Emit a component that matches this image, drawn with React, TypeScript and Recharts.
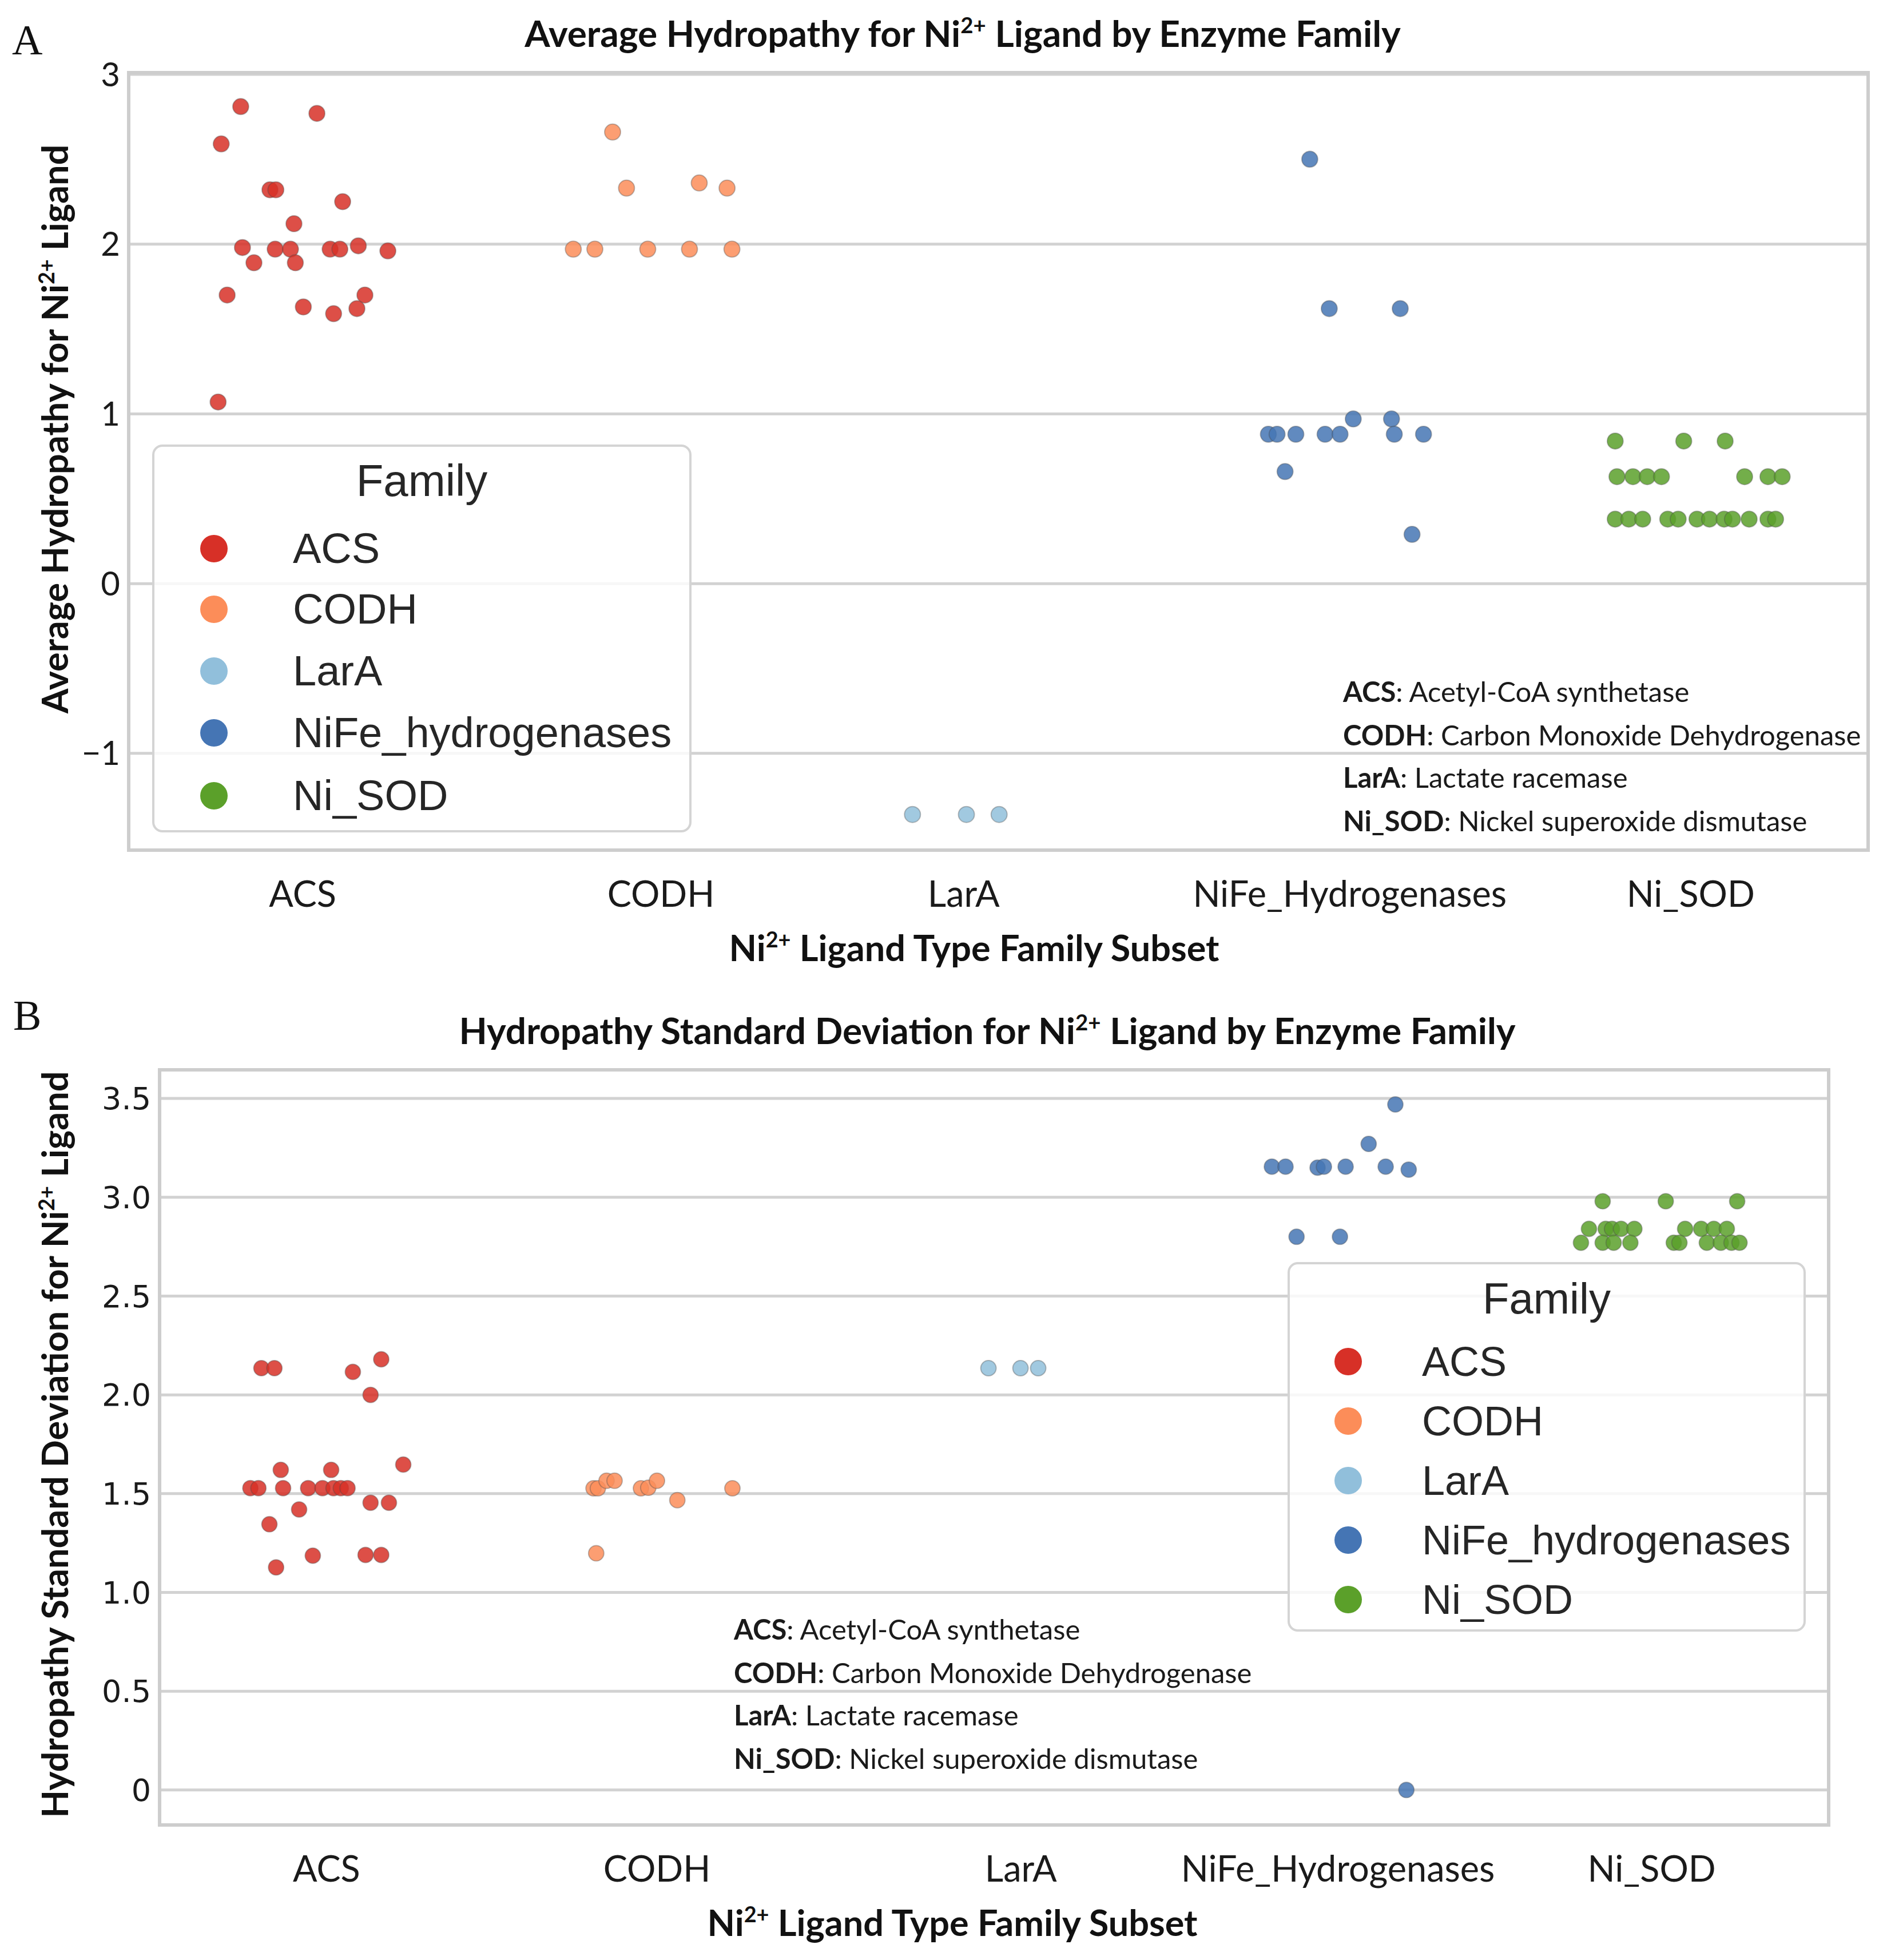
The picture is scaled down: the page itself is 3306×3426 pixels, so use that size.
import { ScatterChart, Scatter, XAxis, YAxis, CartesianGrid, ReferenceArea } from 'recharts';

type Pt = [number, number];

// category axis + families
const CATEGORIES = ['ACS', 'CODH', 'LarA', 'NiFe_Hydrogenases', 'Ni_SOD'];
const FAMILY_NAMES = ['ACS', 'CODH', 'LarA', 'NiFe_hydrogenases', 'Ni_SOD'];
const FAMILY_COLORS = ['#d73027', '#fc8d59', '#91bfdb', '#4575b4', '#5ba02a'];

// tick label positions (in category units) as placed in the figure
const MEAN_TICK_POS = [0, 1.03, 1.9, 3.01, 3.99];
const SD_TICK_POS = [0, 0.99, 2.08, 3.03, 3.97];
const MEAN_Y_TICKS = [-1, 0, 1, 2, 3];
const SD_Y_TICKS = [0, 0.5, 1, 1.5, 2, 2.5, 3, 3.5];

// panel A: average hydropathy, [jitter, value]
const ACS_MEAN: Pt[] = [
  [-0.178, 2.81], [0.041, 2.77], [-0.234, 2.59], [-0.094, 2.32], [-0.077, 2.32], [0.115, 2.25],
  [-0.025, 2.12], [-0.173, 1.98], [-0.079, 1.97], [-0.035, 1.97], [0.079, 1.97], [0.107, 1.97],
  [0.16, 1.99], [0.245, 1.96], [-0.14, 1.89], [-0.021, 1.89], [-0.217, 1.7], [0.179, 1.7],
  [0.002, 1.63], [0.156, 1.62], [0.089, 1.59], [-0.243, 1.07],
];
const CODH_MEAN: Pt[] = [
  [-0.109, 2.66], [-0.069, 2.33], [0.14, 2.36], [0.22, 2.33], [-0.222, 1.97], [-0.16, 1.97],
  [-0.008, 1.97], [0.112, 1.97], [0.234, 1.97],
];
const LARA_MEAN: Pt[] = [[-0.247, -1.36], [-0.092, -1.36], [0.002, -1.36]];
const NIFE_MEAN: Pt[] = [
  [-0.105, 2.5], [-0.049, 1.62], [0.155, 1.62], [0.02, 0.97], [0.13, 0.97], [-0.224, 0.88],
  [-0.199, 0.88], [-0.145, 0.88], [-0.061, 0.88], [-0.018, 0.88], [0.138, 0.88], [0.222, 0.88],
  [-0.176, 0.66], [0.189, 0.29],
];
const NISOD_MEAN: Pt[] = [
  [-0.227, 0.84], [-0.03, 0.84], [0.089, 0.84],
  [-0.222, 0.63], [-0.176, 0.63], [-0.135, 0.63], [-0.094, 0.63], [0.145, 0.63], [0.212, 0.63], [0.253, 0.63],
  [-0.227, 0.38], [-0.188, 0.38], [-0.148, 0.38], [-0.076, 0.38], [-0.046, 0.38], [0.008, 0.38],
  [0.044, 0.38], [0.086, 0.38], [0.11, 0.38], [0.158, 0.38], [0.212, 0.38], [0.234, 0.38],
];

// panel B: hydropathy standard deviation, [jitter, value]
const ACS_SD: Pt[] = [
  [-0.195, 2.135], [-0.156, 2.135], [0.079, 2.116], [0.164, 2.18], [0.132, 2.0], [0.23, 1.647],
  [-0.137, 1.62], [0.014, 1.62], [-0.228, 1.528], [-0.204, 1.528], [-0.13, 1.528], [-0.055, 1.528],
  [-0.012, 1.528], [0.021, 1.528], [0.043, 1.528], [0.063, 1.528], [0.132, 1.454], [0.187, 1.454],
  [-0.082, 1.42], [-0.171, 1.345], [-0.041, 1.186], [0.117, 1.19], [0.164, 1.19], [-0.151, 1.127],
];
const CODH_SD: Pt[] = [
  [-0.2, 1.527], [-0.187, 1.527], [-0.161, 1.565], [-0.137, 1.565], [-0.058, 1.527], [-0.036, 1.53],
  [-0.01, 1.565], [0.051, 1.467], [0.216, 1.527], [-0.192, 1.198],
];
const LARA_SD: Pt[] = [[-0.017, 2.135], [0.079, 2.135], [0.132, 2.135]];
const NIFE_SD: Pt[] = [
  [0.202, 3.47], [0.122, 3.27], [-0.168, 3.155], [-0.127, 3.155], [-0.031, 3.15], [-0.012, 3.155],
  [0.053, 3.155], [0.173, 3.155], [0.242, 3.14], [-0.094, 2.8], [0.036, 2.8], [0.235, 0.0],
];
const NISOD_SD: Pt[] = [
  [-0.177, 2.98], [0.012, 2.98], [0.226, 2.98],
  [-0.218, 2.84], [-0.168, 2.84], [-0.149, 2.84], [-0.122, 2.84], [-0.082, 2.84], [0.07, 2.84],
  [0.118, 2.84], [0.156, 2.84], [0.195, 2.84],
  [-0.242, 2.77], [-0.177, 2.77], [-0.144, 2.77], [-0.094, 2.77], [0.036, 2.77], [0.053, 2.77],
  [0.135, 2.77], [0.177, 2.77], [0.209, 2.77], [0.233, 2.77],
];

const ANNOT_ABBR = ['ACS', 'CODH', 'LarA', 'Ni_SOD'];
const ANNOT_DESC = ['Acetyl-CoA synthetase', 'Carbon Monoxide Dehydrogenase', 'Lactate racemase', 'Nickel superoxide dismutase'];

const W = 3306;
const H = 3426;
const CAL = "Lato, 'Open Sans', sans-serif";
const ARIAL = "'Liberation Sans', Arial, sans-serif";
const TITLE_SIZE = 64;
const AXIS_LABEL_SIZE = 63;

const toPoints = (idx: number, pts: Pt[]) => pts.map(([dx, v]) => ({ x: idx + dx, y: v }));

// superscripted Ni2+ inside svg text
const NiSup = ({ before, after, size }: { before: string; after: string; size: number }) => (
  <>
    {before}Ni
    <tspan dy={-size * 0.38} fontSize={size * 0.6}>2+</tspan>
    <tspan dy={size * 0.38}>{after}</tspan>
  </>
);

type PanelProps = {
  top: number;
  height: number;
  plot: { left: number; top: number; right: number; bottom: number };
  yDomain: [number, number];
  yTicks: number[];
  yFmt: (v: number) => string;
  yTickFont: { family: string; size: number };
  tickPos: number[];
  series: Pt[][];
  r: number;
  xLabelX: number;
  yLabelY: number;
  yLabelText: string;
};

function Panel(p: PanelProps) {
  const { plot } = p;
  const localTop = plot.top - p.top;
  const localBottom = plot.bottom - p.top;
  const xLabel = () => (
    <text x={p.xLabelX} y={localBottom + 194} textAnchor="middle" fontFamily={CAL} fontWeight={700} fontSize={AXIS_LABEL_SIZE} fill="#111">
      <NiSup before="" after=" Ligand Type Family Subset" size={AXIS_LABEL_SIZE} />
    </text>
  );
  const yLabel = () => {
    const cx = 119;
    const cy = p.yLabelY - p.top;
    return (
      <text x={cx} y={cy} transform={`rotate(-90, ${cx}, ${cy})`} textAnchor="middle" fontFamily={CAL} fontWeight={700} fontSize={AXIS_LABEL_SIZE} fill="#111">
        <NiSup before={p.yLabelText} after=" Ligand" size={AXIS_LABEL_SIZE} />
      </text>
    );
  };
  return (
    <div style={{ position: 'absolute', left: 0, top: p.top }}>
      <ScatterChart
        width={W}
        height={p.height}
        margin={{ top: localTop, right: W - plot.right, left: 0, bottom: 0 }}
      >
        <CartesianGrid vertical={false} stroke="#d2d2d2" strokeWidth={5} horizontalValues={p.yTicks} />
        <ReferenceArea x1={-0.5} x2={4.5} y1={p.yDomain[0]} y2={p.yDomain[1]} fill="none" stroke="#cdcdcd" strokeWidth={6} />
        <XAxis
          type="number"
          dataKey="x"
          domain={[-0.5, 4.5]}
          ticks={p.tickPos}
          interval={0}
          height={p.height - localBottom}
          axisLine={false}
          tickLine={false}
          tickSize={0}
          tickMargin={54}
          tick={{ fontFamily: CAL, fontSize: 63, fill: '#1a1a1a' }}
          tickFormatter={(v: number) => CATEGORIES[p.tickPos.indexOf(v)] ?? ''}
          label={xLabel}
        />
        <YAxis
          type="number"
          dataKey="y"
          domain={p.yDomain}
          ticks={p.yTicks}
          interval={0}
          width={plot.left}
          axisLine={false}
          tickLine={false}
          tickSize={0}
          tickMargin={15}
          tick={{ fontFamily: p.yTickFont.family, fontSize: p.yTickFont.size, fill: '#1a1a1a' }}
          tickFormatter={p.yFmt}
          allowDataOverflow
          label={yLabel}
        />
        {p.series.map((pts, i) => (
          <Scatter
            key={FAMILY_NAMES[i]}
            name={FAMILY_NAMES[i]}
            data={toPoints(i, pts)}
            isAnimationActive={false}
            shape={(s: any) => (
              <circle cx={s.cx} cy={s.cy} r={p.r} fill={FAMILY_COLORS[i]} fillOpacity={0.85} stroke="#4a4a4a" strokeOpacity={0.35} strokeWidth={2} />
            )}
          />
        ))}
      </ScatterChart>
    </div>
  );
}

function FamilyLegend({ left, top, width, height, titleY, rows, markerX, textX, size }: {
  left: number; top: number; width: number; height: number; titleY: number; rows: number[]; markerX: number; textX: number; size: number;
}) {
  return (
    <div
      style={{
        position: 'absolute', left, top, width, height, boxSizing: 'border-box',
        border: '4px solid #d4d4d4', borderRadius: 18, background: 'rgba(255,255,255,0.82)',
        fontFamily: ARIAL, color: '#262626',
      }}
    >
      <div style={{ position: 'absolute', left: 0, right: 0, top: titleY - 45, height: 90, lineHeight: '90px', textAlign: 'center', fontSize: size + 4 }}>
        Family
      </div>
      {FAMILY_NAMES.map((name, i) => (
        <div key={name} style={{ position: 'absolute', left: 0, right: 0, top: rows[i] - 45, height: 90 }}>
          <div style={{ position: 'absolute', left: markerX - 24, top: 21, width: 48, height: 48, borderRadius: 24, background: FAMILY_COLORS[i] }} />
          <div style={{ position: 'absolute', left: textX, top: 0, height: 90, lineHeight: '90px', fontSize: size, whiteSpace: 'nowrap' }}>{name}</div>
        </div>
      ))}
    </div>
  );
}

function Annotations({ x, baselines }: { x: number; baselines: number[] }) {
  return (
    <>
      {ANNOT_ABBR.map((abbr, i) => (
        <text key={abbr} x={x} y={baselines[i]} fontFamily={CAL} fontSize={49} fill="#1a1a1a">
          <tspan fontWeight={700}>{abbr}</tspan>: {ANNOT_DESC[i]}
        </text>
      ))}
    </>
  );
}

export default function App() {
  return (
    <div style={{ position: 'absolute', left: 0, top: 0, width: W, height: H, background: '#fff', overflow: 'hidden' }}>
      <Panel
        top={0}
        height={1713}
        plot={{ left: 225, top: 127, right: 3266, bottom: 1486 }}
        yDomain={[-1.57, 3.01]}
        yTicks={MEAN_Y_TICKS}
        yFmt={(v) => (v < 0 ? `\u2212${Math.abs(v)}` : `${v}`)}
        yTickFont={{ family: CAL, size: 58 }}
        tickPos={MEAN_TICK_POS}
        series={[ACS_MEAN, CODH_MEAN, LARA_MEAN, NIFE_MEAN, NISOD_MEAN]}
        r={14}
        xLabelX={1703}
        yLabelY={750}
        yLabelText="Average Hydropathy for "
      />
      <Panel
        top={1713}
        height={1713}
        plot={{ left: 279, top: 1870, right: 3197, bottom: 3190 }}
        yDomain={[-0.177, 3.645]}
        yTicks={SD_Y_TICKS}
        yFmt={(v) => (v === 0 ? '0' : v.toFixed(1))}
        yTickFont={{ family: "'DejaVu Sans', sans-serif", size: 54 }}
        tickPos={SD_TICK_POS}
        series={[ACS_SD, CODH_SD, LARA_SD, NIFE_SD, NISOD_SD]}
        r={13.5}
        xLabelX={1665}
        yLabelY={2525}
        yLabelText="Hydropathy Standard Deviation for "
      />
      <svg width={W} height={H} style={{ position: 'absolute', left: 0, top: 0, pointerEvents: 'none' }}>
        <text x={21} y={95} fontFamily="'Liberation Serif', serif" fontSize={74} fill="#111">A</text>
        <text x={23} y={1800} fontFamily="'Liberation Serif', serif" fontSize={74} fill="#111">B</text>
        <text x={1683} y={82} textAnchor="middle" fontFamily={CAL} fontWeight={700} fontSize={TITLE_SIZE} fill="#111">
          <NiSup before="Average Hydropathy for " after=" Ligand by Enzyme Family" size={TITLE_SIZE} />
        </text>
        <text x={1726} y={1825} textAnchor="middle" fontFamily={CAL} fontWeight={700} fontSize={TITLE_SIZE} fill="#111">
          <NiSup before="Hydropathy Standard Deviation for " after=" Ligand by Enzyme Family" size={TITLE_SIZE} />
        </text>
        <Annotations x={2348} baselines={[1227, 1303, 1377, 1453]} />
        <Annotations x={1283} baselines={[2866, 2942, 3016, 3092]} />
      </svg>
      <FamilyLegend left={266} top={777} width={943} height={678} titleY={59} rows={[178, 284, 392, 500, 610]} markerX={104} textX={242} size={74} />
      <FamilyLegend left={2251} top={2206} width={906} height={646} titleY={60} rows={[170, 274, 378, 482, 586]} markerX={102} textX={231} size={72} />
    </div>
  );
}
